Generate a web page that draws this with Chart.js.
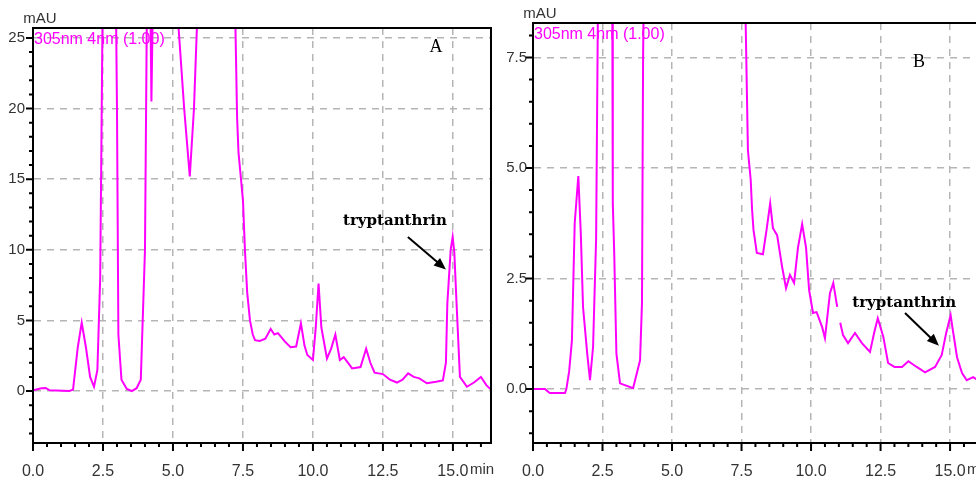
<!DOCTYPE html>
<html>
<head>
<meta charset="utf-8">
<script src="https://cdn.jsdelivr.net/npm/chart.js@4/dist/chart.umd.min.js"></script>
<style>
  html, body { margin: 0; padding: 0; background: #fff; overflow: hidden; width: 976px; height: 483px; }
  #chartA { position: absolute; left: 0; top: 0; }
  #chartB { position: absolute; left: 500px; top: 0; }
</style>
</head>
<body>
<canvas id="chartA" width="500" height="483"></canvas>
<canvas id="chartB" width="493" height="483"></canvas>
<script>
// panel A: retention time (min) and absorbance (mAU)
const timesA = [0, 0.3, 0.45, 0.6, 1.3, 1.43, 1.6, 1.74, 1.89, 2.04, 2.18, 2.3, 2.4, 2.5, 2.7, 2.95, 3.0, 3.05, 3.16, 3.35, 3.53, 3.7, 3.85,
  4.0, 4.08, 4.18, 4.23, 4.3, 4.8, 5.2, 5.4, 5.6, 5.75, 5.86, 6.5, 7.22, 7.29, 7.34, 7.5, 7.57, 7.65, 7.75, 7.85, 7.93,
  8.1, 8.3, 8.49, 8.62, 8.75, 9.0, 9.2, 9.4, 9.57, 9.7, 9.8, 10.0, 10.1, 10.2, 10.3, 10.5, 10.65, 10.8, 10.96, 11.1,
  11.4, 11.7, 11.9, 12.05, 12.2, 12.5, 12.75, 13.0, 13.2, 13.4, 13.6, 13.8, 14.07, 14.4, 14.64, 14.75, 14.8, 14.92,
  14.99, 15.05, 15.13, 15.25, 15.5, 15.75, 16.0, 16.2, 16.36];
const signalA = [0.05, 0.2, 0.22, 0.05, 0.0, 0.1, 3.1, 4.84, 3.1, 1.0, 0.3, 1.5, 8, 30, 40, 30, 20, 4, 0.8, 0.15, 0.0, 0.2, 0.8,
  10, 30, 30, 20.5, 30, 40, 25.7, 20, 15.2, 20, 26, 45, 27, 19.4, 16.9, 13.5, 10, 7, 5, 4, 3.6,
  3.55, 3.7, 4.4, 4.0, 4.1, 3.5, 3.1, 3.15, 4.8, 3.2, 2.55, 2.2, 4.5, 7.6, 4.5, 2.3, 3.0, 4.0, 2.2, 2.4,
  1.6, 1.7, 3.0, 2.0, 1.3, 1.2, 0.8, 0.6, 0.8, 1.25, 1.0, 0.9, 0.55, 0.65, 0.75, 2.0, 6.2, 10.0,
  10.9, 9.8, 6.2, 1.0, 0.3, 0.6, 1.0, 0.4, 0.1];

// panel B
const timesB = [0, 0.43, 0.6, 1.15, 1.2, 1.3, 1.4, 1.5, 1.63, 1.72, 1.8, 1.95, 2.05, 2.16, 2.27, 2.34, 2.6, 2.85, 2.87, 2.92, 3.0,
  3.13, 3.6, 3.85, 3.92, 3.96, 4.1, 5.5, 7.6, 7.73, 7.83, 7.88, 7.93, 8.05, 8.27, 8.4, 8.53, 8.63, 8.78, 8.96, 9.1,
  9.24, 9.39, 9.53, 9.68, 9.82, 9.93, 10.07, 10.2, 10.4, 10.5, 10.68, 10.8, 10.94, 11.0, 11.05, 11.15, 11.33, 11.58,
  11.83, 12.12, 12.28, 12.4, 12.6, 12.77, 13.0, 13.27, 13.5, 13.8, 14.1, 14.46, 14.7, 14.86, 15.02, 15.1, 15.25,
  15.43, 15.6, 15.83, 16.0, 16.4];
const signalB = [0, 0, -0.09, -0.09, 0, 0.4, 1.1, 3.75, 4.82, 3.5, 1.85, 0.8, 0.2, 0.95, 3.4, 9, 20, 9, 4.2, 3.1, 0.8,
  0.13, 0.02, 0.65, 1.95, 7.6, 15, 20, 10, 5.4, 4.73, 4.05, 3.6, 3.08, 3.05, 3.6, 4.2, 3.64, 3.48, 2.76, 2.28,
  2.58, 2.4, 3.2, 3.73, 3.2, 2.24, 1.72, 1.74, 1.4, 1.15, 2.17, 2.4, 1.86, null, 1.5, 1.22, 1.04, 1.27,
  1.04, 0.84, 1.3, 1.6, 1.18, 0.59, 0.5, 0.5, 0.63, 0.5, 0.38, 0.5, 0.77, 1.27, 1.67, 1.33, 0.72,
  0.36, 0.2, 0.27, 0.2, 0.25];

const TRACE = '#ff00ff';
const TICK_FONT = "'Liberation Sans Narrow', 'Arial Narrow', 'Liberation Sans', sans-serif";

function keepMajor(step) {
  return s => { s.ticks = s.ticks.filter(t => Math.abs(t.value / step - Math.round(t.value / step)) < 1e-6); };
}

// box, minor ticks and the text annotations
const frame = {
  id: 'frame',
  afterDraw(chart, args, o) {
    const {ctx, chartArea: a, scales: {x, y}} = chart;
    ctx.save();
    ctx.strokeStyle = '#000';
    ctx.lineWidth = 2;
    ctx.strokeRect(a.left, a.top, a.right - a.left, a.bottom - a.top);

    ctx.beginPath();
    for (let i = 0; i * 0.5 <= x.max + 1e-9; i++) {
      const px = x.getPixelForValue(i * 0.5);
      const len = i % 5 === 0 ? 8 : 4;
      ctx.moveTo(px, a.bottom); ctx.lineTo(px, a.bottom + len);
    }
    const n0 = Math.ceil(y.min / o.yMinor), n1 = Math.floor(y.max / o.yMinor);
    for (let i = n0; i <= n1; i++) {
      const py = y.getPixelForValue(i * o.yMinor);
      const len = i % o.yPer === 0 ? 7 : 4;
      ctx.moveTo(a.left, py); ctx.lineTo(a.left - len, py);
    }
    ctx.stroke();

    ctx.fillStyle = '#333';
    ctx.font = '15px ' + TICK_FONT;
    ctx.textAlign = 'center';
    ctx.textBaseline = 'middle';
    ctx.fillText('mAU', a.left + 7, a.top - o.mauOff);

    ctx.textAlign = 'left';
    ctx.fillText('min', x.getPixelForValue(15) + 17, a.bottom + 27);

    ctx.font = '16px ' + TICK_FONT;
    ctx.fillStyle = TRACE;
    ctx.fillText('305nm 4nm (1.00)', a.left + 1, a.top + 12);

    ctx.fillStyle = '#000';
    ctx.textAlign = 'center';
    ctx.font = "18px 'Liberation Serif', serif";
    ctx.fillText(o.letter.text, o.letter.x, o.letter.y);

    ctx.font = "bold 15px 'DejaVu Serif', serif";
    ctx.fillText('tryptanthrin', x.getPixelForValue(o.label.x), y.getPixelForValue(o.label.y));

    const x1 = x.getPixelForValue(o.arrow[0]), y1 = y.getPixelForValue(o.arrow[1]);
    const x2 = x.getPixelForValue(o.arrow[2]), y2 = y.getPixelForValue(o.arrow[3]);
    const ang = Math.atan2(y2 - y1, x2 - x1);
    ctx.beginPath();
    ctx.moveTo(x1, y1);
    ctx.lineTo(x2 - 8 * Math.cos(ang), y2 - 8 * Math.sin(ang));
    ctx.stroke();
    ctx.beginPath();
    ctx.moveTo(x2, y2);
    ctx.lineTo(x2 - 12 * Math.cos(ang) + 5 * Math.sin(ang), y2 - 12 * Math.sin(ang) - 5 * Math.cos(ang));
    ctx.lineTo(x2 - 12 * Math.cos(ang) - 5 * Math.sin(ang), y2 - 12 * Math.sin(ang) + 5 * Math.cos(ang));
    ctx.closePath();
    ctx.fill();
    ctx.restore();
  }
};

function makeChart(id, times, values, cfg) {
  return new Chart(document.getElementById(id), {
    type: 'line',
    data: {
      datasets: [{
        data: times.map((t, i) => ({x: t, y: values[i]})),
        borderColor: TRACE,
        borderWidth: 2,
        pointRadius: 0,
        tension: 0,
        spanGaps: false
      }]
    },
    options: {
      responsive: false,
      animation: false,
      layout: {padding: {top: cfg.top, right: cfg.right, left: 0, bottom: 0}},
      plugins: {
        legend: {display: false},
        tooltip: {enabled: false},
        frame: cfg.frame
      },
      scales: {
        x: {
          type: 'linear',
          min: 0,
          max: cfg.xMax,
          afterBuildTicks: keepMajor(2.5),
          afterFit: s => { s.height = 40; },
          ticks: {
            stepSize: 2.5,
            includeBounds: false,
            maxRotation: 0,
            autoSkip: false,
            padding: 19,
            color: '#333',
            font: {family: TICK_FONT, size: 16},
            callback: v => v.toFixed(1)
          },
          grid: {color: '#b5b5b5', lineWidth: 1.5, drawTicks: false},
          border: {display: true, color: '#000', width: 2, dash: [7, 6]}
        },
        y: {
          min: cfg.yMin,
          max: cfg.yMax,
          afterBuildTicks: keepMajor(cfg.yStep),
          afterFit: s => { s.width = cfg.left; },
          ticks: {
            stepSize: cfg.yStep,
            includeBounds: false,
            padding: cfg.yPad,
            color: '#333',
            font: {family: TICK_FONT, size: 15},
            callback: cfg.yFmt
          },
          grid: {color: '#b5b5b5', lineWidth: 1.5, drawTicks: false},
          border: {display: true, color: '#000', width: 2, dash: [7, 6]}
        }
      }
    },
    plugins: [frame]
  });
}

makeChart('chartA', timesA, signalA, {
  top: 28, right: 9, left: 33, xMax: 16.36,
  yMin: -3.68, yMax: 25.7, yStep: 5, yPad: 8, yFmt: v => String(v),
  frame: {
    yMinor: 1, yPer: 5, mauOff: 9,
    letter: {text: 'A', x: 436, y: 47},
    label: {x: 12.93, y: 12.0},
    arrow: [13.39, 10.9, 14.75, 8.6]
  }
});

makeChart('chartB', timesB, signalB, {
  top: 23, right: 4, left: 33, xMax: 16.4,
  yMin: -1.22, yMax: 8.28, yStep: 2.5, yPad: 6, yFmt: v => v.toFixed(1),
  frame: {
    yMinor: 0.5, yPer: 5, mauOff: 9,
    letter: {text: 'B', x: 419, y: 62},
    label: {x: 13.35, y: 1.95},
    arrow: [13.38, 1.72, 14.6, 0.98]
  }
});
</script>
</body>
</html>
